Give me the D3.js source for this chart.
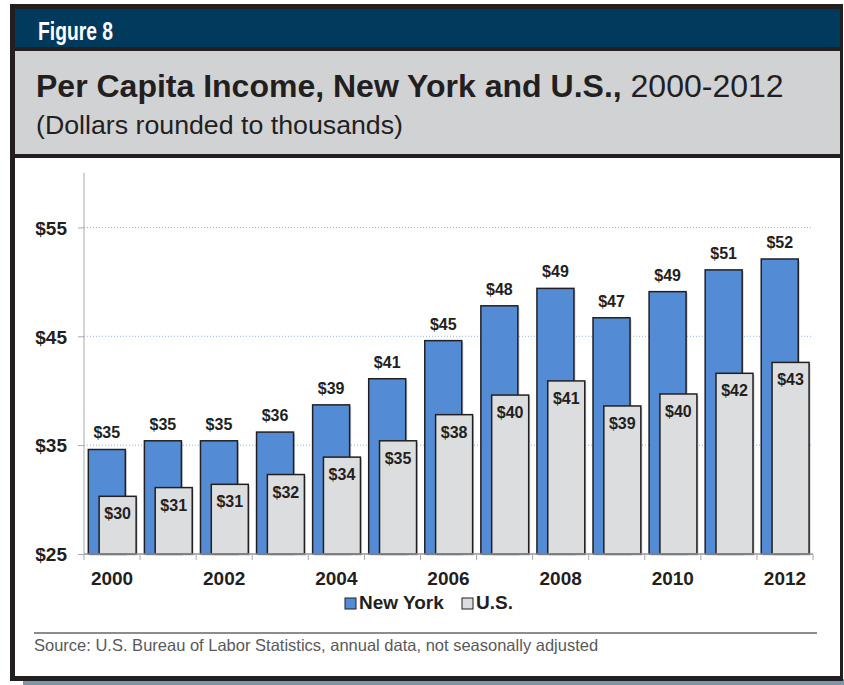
<!DOCTYPE html>
<html>
<head>
<meta charset="utf-8">
<script src="https://cdn.jsdelivr.net/npm/d3@7"></script>
<style>
  body { margin: 0; background: #fff; }
  svg { display: block; }
  text { font-family: "Liberation Sans", Arial, sans-serif; fill: #231f20; }
</style>
</head>
<body>
<svg id="chart" width="844" height="685"></svg>
<script>
// data (thousands of dollars)
const years = [2000, 2001, 2002, 2003, 2004, 2005, 2006, 2007, 2008, 2009, 2010, 2011, 2012]
const newYork = [34.6, 35.4, 35.4, 36.2, 38.7, 41.1, 44.6, 47.8, 49.4, 46.7, 49.1, 51.1, 52.1]
const us = [30.3, 31.1, 31.4, 32.3, 33.9, 35.4, 37.8, 39.6, 40.9, 38.6, 39.7, 41.6, 42.6]
const yTicks = [25, 35, 45, 55]
const xTickLabels = [2000, 2002, 2004, 2006, 2008, 2010, 2012]

const svg = d3.select('#chart')

// frame
svg.append('rect').attr('x', 23).attr('y', 679).attr('width', 821).attr('height', 6).attr('fill', '#7b97ab')
svg.append('rect').attr('x', 10).attr('y', 4).attr('width', 833).attr('height', 677).attr('fill', '#231f20')
svg.append('rect').attr('x', 15).attr('y', 9).attr('width', 825).attr('height', 38).attr('fill', '#003a5d')
svg.append('rect').attr('x', 15).attr('y', 51).attr('width', 825).attr('height', 103).attr('fill', '#d1d2d4')
svg.append('rect').attr('x', 15).attr('y', 158).attr('width', 825).attr('height', 518).attr('fill', '#fff')

svg.append('text').attr('x', 38).attr('y', 40)
  .attr('textLength', 75).attr('lengthAdjust', 'spacingAndGlyphs')
  .style('font-weight', 'bold').style('font-size', '25px').style('fill', '#fff')
  .text('Figure 8')

const title = svg.append('text').attr('x', 36).attr('y', 97).style('font-size', '32px')
title.append('tspan').style('font-weight', 'bold').text('Per Capita Income, New York and U.S.,')
title.append('tspan').text(' 2000-2012')

svg.append('text').attr('x', 36).attr('y', 134).style('font-size', '25px')
  .attr('textLength', 367).attr('lengthAdjust', 'spacingAndGlyphs')
  .text('(Dollars rounded to thousands)')

// scales
const x = d3.scaleBand().domain(years).range([84, 813]).padding(0)
const y = d3.scaleLinear().domain([25, 60]).range([554, 173])
const bw = x.bandwidth()

// gridlines
svg.append('g').selectAll('line').data(yTicks.slice(1)).join('line')
  .attr('x1', 84).attr('x2', 813)
  .attr('y1', d => y(d)).attr('y2', d => y(d))
  .attr('stroke', '#8fb4e3').attr('stroke-width', 1).attr('stroke-dasharray', '1,2')

// y axis
const yAxis = svg.append('g').attr('transform', 'translate(84,0)')
  .call(d3.axisLeft(y).tickValues(yTicks).tickSize(6).tickFormat(d => '$' + d))
yAxis.select('.domain').attr('stroke', '#a7a9ac').attr('d', `M0,173V${y(25)}`)
yAxis.selectAll('.tick line').attr('stroke', '#a7a9ac')
yAxis.selectAll('.tick text').attr('x', -17).attr('dy', '0.36em')
  .style('font-size', '19px').style('font-weight', 'bold').style('fill', '#231f20')

// bars
const groups = svg.append('g').selectAll('g').data(years).join('g')
  .attr('transform', d => `translate(${x(d)},0)`)

const nyX = bw * 0.077, usX = bw * 0.27, barW = bw * 0.66

groups.append('rect')
  .attr('x', (d, i) => nyX + 1.5).attr('y', (d, i) => y(newYork[i]) + 1.5)
  .attr('width', barW).attr('height', (d, i) => y(25) - y(newYork[i]))
  .attr('fill', '#9a9a9a').attr('opacity', 0.5)
groups.append('rect')
  .attr('x', nyX).attr('y', (d, i) => y(newYork[i]))
  .attr('width', barW).attr('height', (d, i) => y(25) - y(newYork[i]))
  .attr('fill', '#538cd5').attr('stroke', '#231f20').attr('stroke-width', 1.5)

groups.append('rect')
  .attr('x', (d, i) => usX + 1.5).attr('y', (d, i) => y(us[i]) + 1.5)
  .attr('width', barW).attr('height', (d, i) => y(25) - y(us[i]))
  .attr('fill', '#9a9a9a').attr('opacity', 0.5)
groups.append('rect')
  .attr('x', usX).attr('y', (d, i) => y(us[i]))
  .attr('width', barW).attr('height', (d, i) => y(25) - y(us[i]))
  .attr('fill', '#dcdddf').attr('stroke', '#231f20').attr('stroke-width', 1.5)

groups.append('text')
  .attr('x', nyX + barW / 2).attr('y', (d, i) => y(newYork[i]) - 11)
  .attr('text-anchor', 'middle').style('font-size', '16px').style('font-weight', 'bold')
  .text((d, i) => '$' + Math.round(newYork[i]))

groups.append('text')
  .attr('x', usX + barW / 2).attr('y', (d, i) => y(us[i]) + 23)
  .attr('text-anchor', 'middle').style('font-size', '16px').style('font-weight', 'bold')
  .text((d, i) => '$' + Math.round(us[i]))

// x axis
svg.append('line').attr('x1', 84).attr('x2', 813).attr('y1', y(25)).attr('y2', y(25))
  .attr('stroke', '#939598').attr('stroke-width', 1.5)
svg.append('g').selectAll('line').data(years.concat([null])).join('line')
  .attr('x1', (d, i) => 84 + i * bw).attr('x2', (d, i) => 84 + i * bw)
  .attr('y1', y(25)).attr('y2', y(25) + 6)
  .attr('stroke', '#a7a9ac')
svg.append('g').selectAll('text').data(xTickLabels).join('text')
  .attr('x', d => x(d) + bw / 2).attr('y', 585)
  .attr('text-anchor', 'middle').style('font-size', '19px').style('font-weight', 'bold')
  .text(d => d)

// legend
const legend = [['New York', '#538cd5', 345], ['U.S.', '#dcdddf', 462]]
const lg = svg.append('g').selectAll('g').data(legend).join('g')
  .attr('transform', d => `translate(${d[2]},598)`)
lg.append('rect').attr('width', 11).attr('height', 11)
  .attr('fill', d => d[1]).attr('stroke', '#231f20').attr('stroke-width', 1)
lg.append('text').attr('x', 14).attr('y', 11)
  .style('font-size', '19px').style('font-weight', 'bold').text(d => d[0])

// source
svg.append('line').attr('x1', 34).attr('x2', 817).attr('y1', 633).attr('y2', 633)
  .attr('stroke', '#8a8c8e').attr('stroke-width', 2)
svg.append('text').attr('x', 34).attr('y', 651).style('font-size', '16.5px').style('fill', '#58595b')
  .text('Source: U.S. Bureau of Labor Statistics, annual data, not seasonally adjusted')
</script>
</body>
</html>
